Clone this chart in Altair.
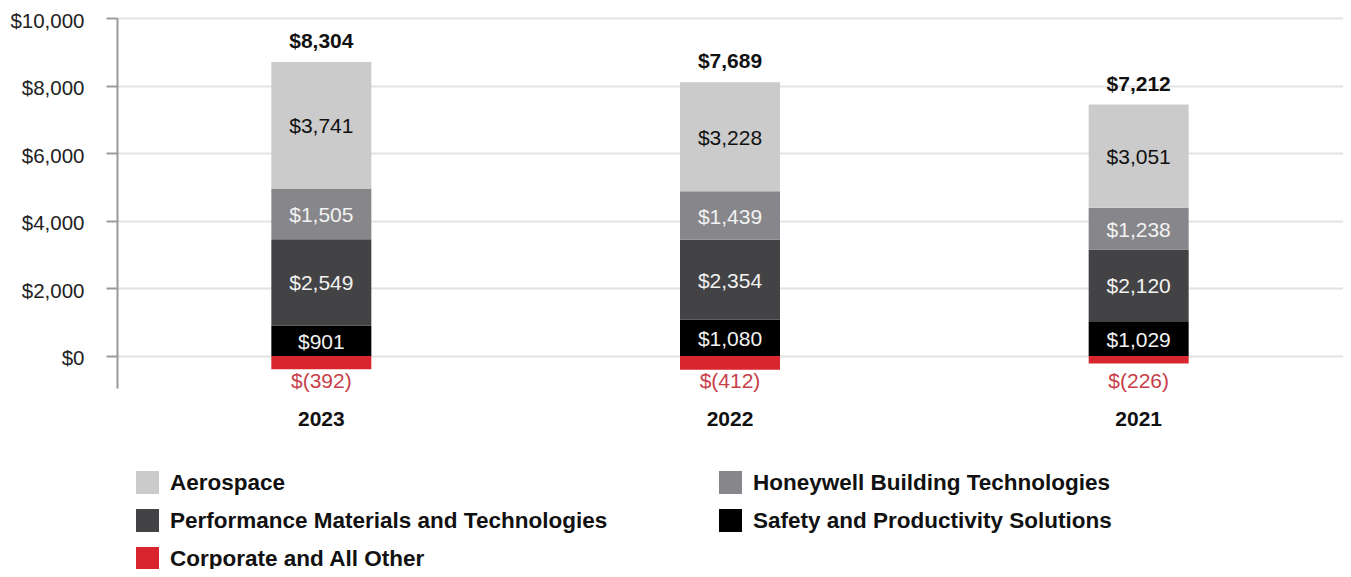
import altair as alt
import pandas as pd

years = ["2023", "2022", "2021"]
segments = [
    "Aerospace",
    "Honeywell Building Technologies",
    "Performance Materials and Technologies",
    "Safety and Productivity Solutions",
    "Corporate and All Other",
]
aerospace = [3741, 3228, 3051]
hbt = [1505, 1439, 1238]
pmt = [2549, 2354, 2120]
sps = [901, 1080, 1029]
corporate = [-392, -412, -226]
totals = [8304, 7689, 7212]
seg_colors = ["#cbcbcb", "#87878b", "#434345", "#000000", "#d9262e"]
text_colors = ["#111111", "#f2f2f2", "#f2f2f2", "#f2f2f2", "#c8404a"]
y_ticks = [0, 2000, 4000, 6000, 8000, 10000]
# legend fills column by column: order so it reads row by row like the reference
legend_order = [0, 2, 4, 1, 3]

FONT = "Liberation Sans"

rows = []
tot_rows = []
for i, yr in enumerate(years):
    base = 0
    for name, vals in [
        (segments[3], sps),
        (segments[2], pmt),
        (segments[1], hbt),
        (segments[0], aerospace),
    ]:
        v = vals[i]
        rows.append(dict(year=yr, seg=name, y0=base, y1=base + v, mid=base + v / 2,
                         label=f"${v:,}", tcolor=text_colors[segments.index(name)]))
        base += v
    tot_rows.append(dict(year=yr, top=base, label=f"${totals[i]:,}"))
    c = corporate[i]
    rows.append(dict(year=yr, seg=segments[4], y0=0, y1=c, mid=c / 2,
                     label=f"$({-c:,})", tcolor=text_colors[4]))

df = pd.DataFrame(rows)
tdf = pd.DataFrame(tot_rows)
pos = df[df.seg != segments[4]]
neg = df[df.seg == segments[4]].copy()
neg["lab_y"] = -780

xenc = alt.X("year:N", sort=years, scale=alt.Scale(paddingInner=0, paddingOuter=0),
             axis=alt.Axis(title=None, labelAngle=0, domain=False, ticks=False,
                           labelFont=FONT, labelFontSize=21, labelFontWeight="bold",
                           labelColor="#111111", labelPadding=20, grid=False))
yscale = alt.Scale(domain=[-950, 10000], nice=False, zero=False)

bars = alt.Chart(df).mark_bar(width=100).encode(
    x=xenc,
    y=alt.Y("y0:Q", scale=yscale,
            axis=alt.Axis(title=None, values=y_ticks, labelExpr="'$' + format(datum.value, ',')",
                          labelFont=FONT, labelFontSize=20.5, labelColor="#222222",
                          labelPadding=22, labelOffset=3, tickSize=11, tickColor="#9a9a9a",
                          tickWidth=2, domainColor="#9a9a9a", domainWidth=2,
                          grid=True, gridColor="#e3e3e3", gridWidth=2)),
    y2="y1:Q",
    color=alt.Color("seg:N", title=None,
                    scale=alt.Scale(domain=[segments[k] for k in legend_order],
                                    range=[seg_colors[k] for k in legend_order]),
                    legend=alt.Legend(orient="none", legendX=19, legendY=453, columns=2,
                                      symbolType="square", symbolSize=529, symbolStrokeWidth=0,
                                      labelFont=FONT, labelFontSize=22.5, labelFontWeight="bold",
                                      labelColor="#111111", labelOffset=11, labelLimit=700,
                                      rowPadding=15, columnPadding=111)),
)

seg_text = alt.Chart(pos).mark_text(font=FONT, fontSize=21, baseline="middle", dy=2).encode(
    x=alt.X("year:N", sort=years),
    y=alt.Y("mid:Q"),
    text="label:N",
    color=alt.Color("tcolor:N", scale=None),
)

neg_text = alt.Chart(neg).mark_text(font=FONT, fontSize=21, baseline="middle").encode(
    x=alt.X("year:N", sort=years),
    y=alt.Y("lab_y:Q"),
    text="label:N",
    color=alt.Color("tcolor:N", scale=None),
)

tot_text = alt.Chart(tdf).mark_text(font=FONT, fontSize=21, fontWeight="bold",
                                    baseline="bottom", dy=-10, color="#111111").encode(
    x=alt.X("year:N", sort=years),
    y=alt.Y("top:Q"),
    text="label:N",
)

chart = alt.layer(bars, seg_text, neg_text, tot_text).properties(
    width=1226, height=370,
    autosize=alt.AutoSizeParams(type="none"),
    padding={"left": 109, "top": 10, "right": 0, "bottom": 181},
    background="white",
).configure_view(strokeWidth=0)

chart.save("out.html", embed_options={"renderer": "svg", "actions": False})
